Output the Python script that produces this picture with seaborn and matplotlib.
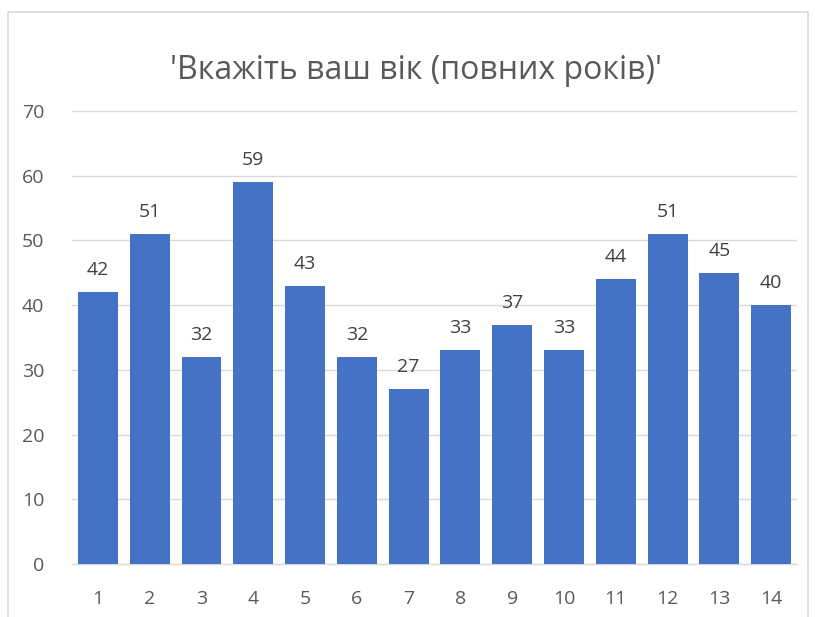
import matplotlib
matplotlib.use("Agg")
import matplotlib.pyplot as plt
import seaborn as sns
import pandas as pd
from matplotlib.patches import Rectangle

# data
respondents = [str(i) for i in range(1, 15)]
ages = [42, 51, 32, 59, 43, 32, 27, 33, 37, 33, 44, 51, 45, 40]

df = pd.DataFrame({"resp": respondents, "age": ages})

sns.set_theme(style="white")
plt.rcParams['font.family'] = ['Open Sans', 'DejaVu Sans']

fig = plt.figure(figsize=(8.15, 6.17), dpi=100)
ax = fig.add_axes([0.0883, 0.086, 0.8897, 0.734])

sns.barplot(data=df, x="resp", y="age", color="#4472C4", saturation=1,
            width=0.77, linewidth=0, ax=ax, zorder=3)

for i, v in enumerate(ages):
    ax.text(i, v + 2.0, str(v), ha="center", va="bottom", fontsize=14, color="#404040")

ax.set_ylim(0, 70)
ax.set_yticks(range(0, 71, 10))
ax.set_xlim(-0.5, len(ages) - 0.5)
ax.yaxis.grid(True, color="#d9d9d9", linewidth=1, zorder=0)
ax.set_axisbelow(True)
for s in ["top", "right", "left"]:
    ax.spines[s].set_visible(False)
ax.spines["bottom"].set_color("#d9d9d9")
ax.spines["bottom"].set_linewidth(1)
ax.tick_params(axis="both", length=0, labelsize=14, labelcolor="#595959")
ax.tick_params(axis="y", pad=20)
ax.tick_params(axis="x", pad=19)
ax.set_xlabel("")
ax.set_ylabel("")

fig.text(0.511, 0.885, "'Вкажіть ваш вік (повних років)'", ha="center", va="center",
         fontsize=23, color="#595959")

# chart frame
fig.patches.append(Rectangle((8 / 815, -0.1), 800 / 815, 1.1 - 12 / 617,
                             transform=fig.transFigure, fill=False,
                             edgecolor="#d9d9d9", linewidth=1.2))

fig.savefig("out.png", dpi=100)
